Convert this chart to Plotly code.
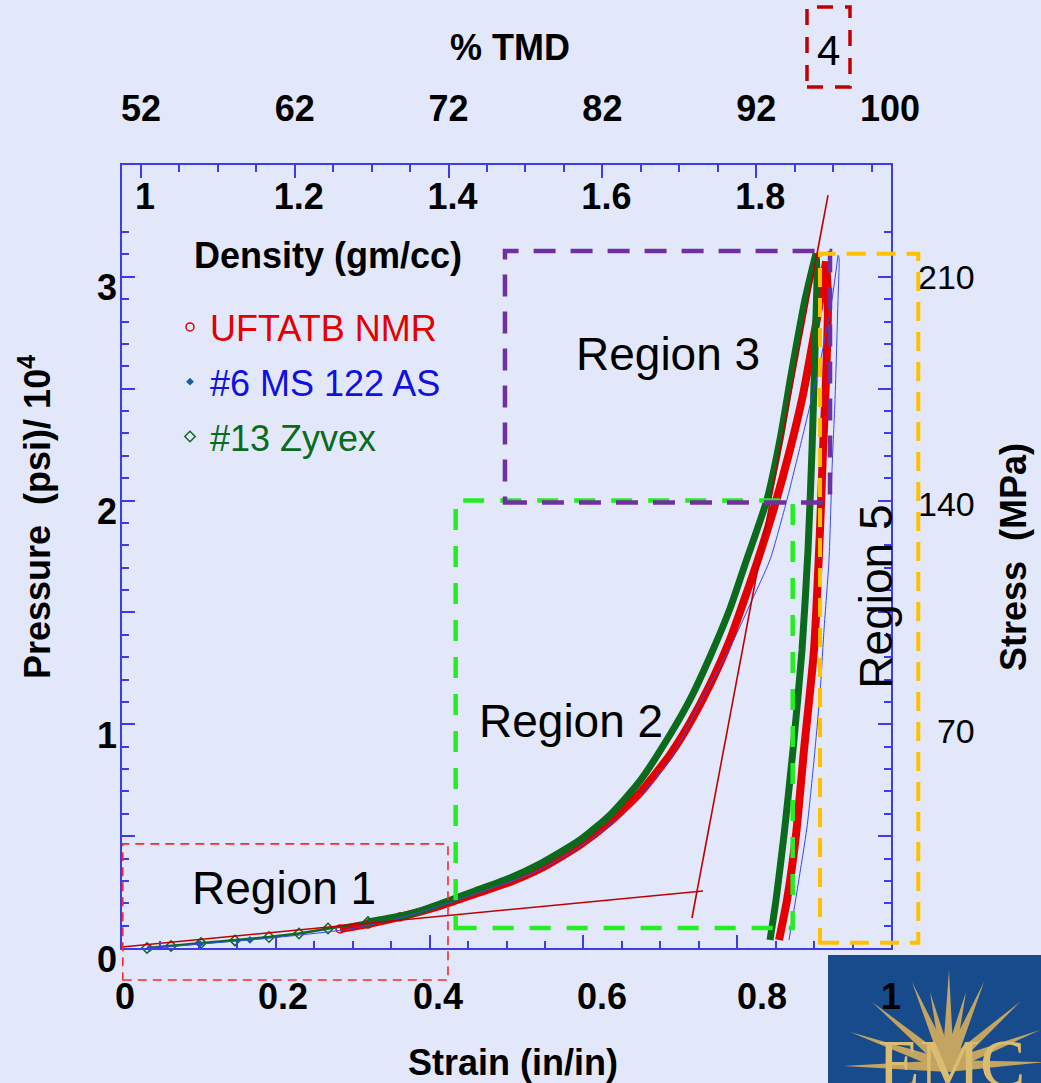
import math
import numpy as np
import plotly.graph_objects as go

# ---------------- data ----------------
# strain (in/in), pressure (psi / 1e4)
green_load_x = [0.0325, 0.0637, 0.1027, 0.1469, 0.1912, 0.2302, 0.2679, 0.3199, 0.3745, 0.4135,
                0.4590, 0.5046, 0.5436, 0.5956, 0.6346, 0.6736, 0.7126, 0.7386, 0.7646, 0.7906,
                0.8101, 0.8388, 0.8557, 0.8713, 0.8882, 0.9025]
green_load_y = [0.000, 0.009, 0.022, 0.034, 0.049, 0.065, 0.087, 0.116, 0.152, 0.197,
                0.255, 0.313, 0.376, 0.483, 0.595, 0.747, 0.953, 1.110, 1.302, 1.517,
                1.714, 2.005, 2.273, 2.586, 2.899, 3.105]
green_unload_x = [0.9025, 0.9038, 0.9012, 0.8973, 0.8921, 0.8843, 0.8726, 0.8609, 0.8505, 0.8427]
green_unload_y = [3.105, 3.011, 2.676, 2.228, 1.781, 1.333, 0.886, 0.506, 0.215, 0.036]

red_load_x = [0.2835, 0.3199, 0.3615, 0.4135, 0.4590, 0.5046, 0.5436, 0.5956, 0.6346, 0.6736,
              0.7126, 0.7386, 0.7646, 0.7906, 0.8101, 0.8270, 0.8492, 0.8687, 0.8856, 0.9012,
              0.9103, 0.9155]
red_load_y = [0.085, 0.107, 0.139, 0.188, 0.242, 0.295, 0.354, 0.461, 0.564, 0.694,
              0.864, 1.007, 1.177, 1.378, 1.566, 1.736, 1.982, 2.228, 2.474, 2.765,
              2.944, 3.069]
red_unload_x = [0.9155, 0.9181, 0.9155, 0.9116, 0.9077, 0.8999, 0.8869, 0.8765, 0.8648, 0.8544]
red_unload_y = [3.069, 2.899, 2.541, 2.228, 1.870, 1.333, 0.886, 0.506, 0.215, 0.036]

blue_load_x = [0.0364, 0.1014, 0.1664, 0.2315, 0.2965, 0.3615, 0.4135, 0.4590, 0.5046, 0.5436,
               0.5956, 0.6346, 0.6736, 0.7126, 0.7516, 0.7906, 0.8166, 0.8427, 0.8648, 0.8856,
               0.9077, 0.9233, 0.9311]
blue_load_y = [0.000, 0.018, 0.036, 0.058, 0.085, 0.134, 0.188, 0.242, 0.295, 0.349,
               0.452, 0.550, 0.680, 0.841, 1.096, 1.342, 1.535, 1.736, 2.005, 2.295,
               2.617, 2.899, 3.096]
blue_unload_x = [0.9311, 0.9324, 0.9311, 0.9272, 0.9233, 0.9194, 0.9129, 0.9077, 0.8999, 0.8908,
                 0.8791, 0.8674]
blue_unload_y = [3.096, 3.087, 2.899, 2.452, 2.139, 1.736, 1.423, 1.141, 0.841, 0.541,
                 0.282, 0.036]

# tangent lines
tan1_x = [0.0, 0.7555]
tan1_y = [0.0045, 0.2550]
tan2_x = [0.7412, 0.9181]
tan2_y = [0.1342, 3.3647]

# region boxes (strain, pressure): x0, x1, y0, y1
region1_box = [0.001, 0.4239, -0.1432, 0.4653]
region2_box = [0.4339, 0.8722, 0.0895, 2.000]
region3_box = [0.4980, 0.9207, 1.9911, 3.1154]
region5_box = [0.9077, 1.0355, 0.0237, 3.1038]

# axis labels
strain_ticks = [0.0, 0.2, 0.4, 0.6, 0.8, 1.0]
strain_label_pos = [0.004, 0.2094, 0.4109, 0.6242, 0.8322, 1.0]
strain_label_text = ["0", "0.2", "0.4", "0.6", "0.8", "1"]
density_ticks = [1.0, 1.2, 1.4, 1.6, 1.8]
density_text = ["1", "1.2", "1.4", "1.6", "1.8"]
tmd_pos = [1.0, 1.2, 1.4, 1.6, 1.8, 1.974]
tmd_text = ["52", "62", "72", "82", "92", "100"]
density_range = [0.9753, 1.9753]
pressure_ticks = [0, 1, 2, 3]
pressure_text = ["0", "1", "2", "3"]
pressure_half_ticks = [0.5, 1.5, 2.5, 3.5]
stress_ticks = [70, 140, 210]
stress_text = ["\u200770", "140", "210"]
PSI_TO_MPA = 6.89476

# ---------------- styling ----------------
BG = "#e2e8fa"
AXIS = "#3c3cee"
RED = "#e40000"
GREEN = "#0b6a1c"
BLUE = "#3a46f0"
BLUE_M = "#1560a0"
TAN = "#c00000"
FONT = "Liberation Sans, Arial, sans-serif"

W, H = 1041, 1083
ML, MR, MT, MB = 122, 150, 125, 135
PW = W - ML - MR            # 769
PH = H - MT - MB            # 823
D = (948 - 165) / PH        # y-domain top
YMAX = 3.5


def yp(v):
    """pressure value -> paper y"""
    return v / YMAX * D


def px_x(p):
    return (p - ML) / PW


def px_y(p):
    return (948 - p) / PH


fig = go.Figure()

gx = np.array(green_load_x); gy = np.array(green_load_y)
rx = np.array(red_load_x); ry = np.array(red_load_y)
bx = np.array(blue_load_x); by = np.array(blue_load_y)

# red series
fig.add_trace(go.Scatter(x=rx, y=ry, mode="lines", line=dict(color=RED, width=8, shape="spline", smoothing=0.6),
                         showlegend=False, hoverinfo="skip"))
fig.add_trace(go.Scatter(x=red_unload_x, y=red_unload_y, mode="lines",
                         line=dict(color=RED, width=8, shape="spline", smoothing=0.6),
                         showlegend=False, hoverinfo="skip"))
m = rx < 0.37
fig.add_trace(go.Scatter(x=rx[m], y=ry[m], mode="markers", name=f"<span style='color:{RED}'>UFTATB NMR</span>",
                         marker=dict(symbol="circle-open", size=8, color=RED, line=dict(width=1.5)),
                         legendgroup="r", legendrank=1, cliponaxis=False))

# green series
m_lo = gx <= 0.33
m_hi = gx >= 0.31
fig.add_trace(go.Scatter(x=gx[m_lo], y=gy[m_lo], mode="lines", line=dict(color=GREEN, width=2.5),
                         showlegend=False, hoverinfo="skip"))
fig.add_trace(go.Scatter(x=gx[m_hi], y=gy[m_hi], mode="lines",
                         line=dict(color=GREEN, width=7, shape="spline", smoothing=0.6),
                         showlegend=False, hoverinfo="skip"))
fig.add_trace(go.Scatter(x=green_unload_x, y=green_unload_y, mode="lines",
                         line=dict(color=GREEN, width=7, shape="spline", smoothing=0.6),
                         showlegend=False, hoverinfo="skip"))
fig.add_trace(go.Scatter(x=gx[m_lo], y=gy[m_lo], mode="markers", name=f"<span style='color:{GREEN}'>#13 Zyvex</span>",
                         marker=dict(symbol="diamond-open", size=8, color=GREEN, line=dict(width=1.5)),
                         legendgroup="g", legendrank=3, cliponaxis=False))

# blue series
fig.add_trace(go.Scatter(x=bx, y=by, mode="lines", line=dict(color=BLUE, width=1, shape="spline", smoothing=0.6),
                         showlegend=False, hoverinfo="skip"))
fig.add_trace(go.Scatter(x=blue_unload_x, y=blue_unload_y, mode="lines",
                         line=dict(color=BLUE, width=1, shape="spline", smoothing=0.6),
                         showlegend=False, hoverinfo="skip"))
mb = bx < 0.2
fig.add_trace(go.Scatter(x=bx[mb], y=by[mb], mode="markers", name="<span style='color:#1010e0'>#6 MS 122 AS</span>",
                         marker=dict(symbol="diamond", size=6, color=BLUE_M),
                         legendgroup="b", legendrank=2, cliponaxis=False))

# tangent lines
for tx, ty in [(tan1_x, tan1_y), (tan2_x, tan2_y)]:
    fig.add_trace(go.Scatter(x=tx, y=ty, mode="lines", line=dict(color=TAN, width=1.6),
                             showlegend=False, hoverinfo="skip"))

# ---------------- region boxes ----------------
def box(b, color, width, dash):
    return dict(type="rect", xref="paper", yref="paper", x0=b[0], x1=b[1], y0=yp(b[2]), y1=yp(b[3]),
                line=dict(color=color, width=width, dash=dash), fillcolor="rgba(0,0,0,0)", layer="above")

shapes = [
    box(region1_box, "#ff2828", 1.6, "9px,6px"),
    box(region2_box, "#22ee22", 4.5, "21px,16px"),
    box(region3_box, "#7030a0", 4.5, "22px,15px"),
    box(region5_box, "#ffc000", 4, "19px,11px"),
    dict(type="rect", xref="paper", yref="paper", x0=px_x(807), x1=px_x(850), y0=px_y(87), y1=px_y(7),
         line=dict(color="#c00000", width=3.5, dash="16px,12px"), layer="above"),
]

# logo (decoration)
shapes.append(dict(type="rect", xref="paper", yref="paper", x0=px_x(828), x1=px_x(1045),
                   y0=px_y(1090), y1=px_y(955), line=dict(width=0), fillcolor="#174b8c", layer="below"))
cx, cy = 948, 1066
tips = [(949, 970), (984, 982), (912, 982), (1021, 1001), (872, 1002), (1040, 1030), (850, 1032),
        (1045, 1062), (843, 1066), (966, 992), (930, 992)]
for (tx_, ty_) in tips:
    ang = math.atan2(ty_ - cy, tx_ - cx)
    hw = 6
    ox, oy = -math.sin(ang) * hw, math.cos(ang) * hw
    p = "M {:.4f},{:.4f} L {:.4f},{:.4f} L {:.4f},{:.4f} Z".format(
        px_x(tx_), px_y(ty_), px_x(cx + ox), px_y(cy + oy), px_x(cx - ox), px_y(cy - oy))
    shapes.append(dict(type="path", xref="paper", yref="paper", path=p, fillcolor="#c4a461",
                       line=dict(width=0), layer="below"))

# ---------------- annotations ----------------
def ann(text, x, y, size=36, bold=False, color="black", angle=0, xref="paper", yref="paper", family=FONT,
        xanchor="center", yanchor="middle"):
    return dict(text=text, x=x, y=y, xref=xref, yref=yref, showarrow=False, textangle=angle,
                xanchor=xanchor, yanchor=yanchor,
                font=dict(family=family, size=size, color=color, weight=700 if bold else 400))

annotations = [
    ann("% TMD", px_x(510), px_y(48), bold=True),
    ann("4", px_x(828), px_y(50), size=42),
    ann("Density (gm/cc)", 0.268, 3.096, bold=True, xref="x", yref="y"),
    ann("Strain (in/in)", px_x(513), px_y(1062), bold=True),
    ann("Pressure\u00a0 (psi)/ 10<sup>4</sup>", px_x(35), px_y(517), bold=True, angle=-90),
    ann("Stress\u00a0 (MPa)", px_x(1013), px_y(557), bold=True, angle=-90),
    ann("Region 1", 0.2107, 0.268, size=46, xref="x", yref="y"),
    ann("Region 2", 0.5839, 1.016, size=46, xref="x", yref="y"),
    ann("Region 3", 0.7100, 2.653, size=46, xref="x", yref="y"),
    ann("Region 5", 0.9805, 1.5705, size=46, angle=-90, xref="x", yref="y"),
    ann("EMC", px_x(951), px_y(1023), size=68, color="#dcbd70", family="Liberation Serif, DejaVu Serif, serif",
        yanchor="top"),
]

tickfont_b = dict(family=FONT, size=36, color="black", weight=700)

fig.update_layout(
    width=W, height=H, autosize=False,
    margin=dict(l=ML, r=MR, t=MT, b=MB, pad=0),
    paper_bgcolor=BG, plot_bgcolor=BG,
    showlegend=True,
    legend=dict(x=px_x(170), y=px_y(297), xanchor="left", yanchor="top", bgcolor="rgba(0,0,0,0)",
                font=dict(family=FONT, size=36), tracegroupgap=5, itemwidth=30),
    shapes=shapes, annotations=annotations,
    xaxis=dict(domain=[0, 1], range=[0, 1], anchor="y", showline=True, linecolor=AXIS, linewidth=1.5,
               mirror=False, showgrid=False, zeroline=False, ticks="inside", ticklen=13, tickwidth=1.5,
               tickcolor=AXIS, tickmode="array", tickvals=strain_ticks, showticklabels=False,
               minor=dict(tickmode="linear", tick0=0, dtick=0.05, ticks="inside", ticklen=7, tickwidth=1.5,
                          tickcolor=AXIS, showgrid=False)),
    xaxis2=dict(overlaying="x", anchor="y", side="top", range=density_range, showline=True, linecolor=AXIS,
                linewidth=1.5, showgrid=False, zeroline=False, ticks="inside", ticklen=13, tickwidth=1.5,
                tickcolor=AXIS, tickmode="array", tickvals=density_ticks, ticktext=density_text,
                ticklabelposition="inside", tickfont=tickfont_b, ticklabelshift=4, ticklabelstandoff=10,
                minor=dict(tickmode="linear", tick0=1.0, dtick=0.05, ticks="inside", ticklen=7, tickwidth=1.5,
                           tickcolor=AXIS, showgrid=False)),
    xaxis3=dict(overlaying="x", anchor="y", side="bottom", range=[0, 1], showline=False, showgrid=False,
                zeroline=False, ticks="", tickmode="array", tickvals=strain_label_pos, ticktext=strain_label_text,
                tickfont=tickfont_b, ticklabelstandoff=24),
    xaxis4=dict(overlaying="x", anchor="free", position=1.0, side="top", range=density_range, showline=False,
                showgrid=False, zeroline=False, ticks="", tickmode="array", tickvals=tmd_pos, ticktext=tmd_text,
                tickfont=tickfont_b, ticklabelstandoff=-3),
    yaxis=dict(domain=[0, D], range=[0, YMAX], anchor="x", showline=True, linecolor=AXIS, linewidth=1.5,
               mirror="ticks", showgrid=False, zeroline=False, ticks="inside", ticklen=13, tickwidth=1.5,
               tickcolor=AXIS, tickmode="array", tickvals=pressure_ticks, ticktext=pressure_text,
               tickfont=tickfont_b, ticklabelshift=11, ticklabelstandoff=-4,
               minor=dict(tickmode="linear", tick0=0, dtick=0.1, ticks="inside", ticklen=7, tickwidth=1.5,
                          tickcolor=AXIS, showgrid=False)),
    yaxis3=dict(overlaying="y", anchor="x", side="left", range=[0, YMAX], showline=False, mirror="ticks",
                showgrid=False, zeroline=False, ticks="inside", ticklen=13, tickwidth=1.5, tickcolor=AXIS,
                tickmode="array", tickvals=pressure_half_ticks, showticklabels=False),
    yaxis2=dict(overlaying="y", anchor="x", side="right", range=[0, YMAX * PSI_TO_MPA * 10], showline=False,
                showgrid=False, zeroline=False, ticks="", tickmode="array", tickvals=stress_ticks,
                ticktext=stress_text, tickfont=dict(family=FONT, size=34, color="black"),
                ticklabelstandoff=26, ticklabelshift=10),
)

# bind the secondary axes so they are drawn
for ax in ["x2", "x3", "x4"]:
    fig.add_trace(go.Scatter(x=[], y=[], xaxis=ax, yaxis="y", showlegend=False, hoverinfo="skip"))
fig.add_trace(go.Scatter(x=[], y=[], xaxis="x", yaxis="y2", showlegend=False, hoverinfo="skip"))
fig.add_trace(go.Scatter(x=[], y=[], xaxis="x", yaxis="y3", showlegend=False, hoverinfo="skip"))

fig.write_html("out.html")
